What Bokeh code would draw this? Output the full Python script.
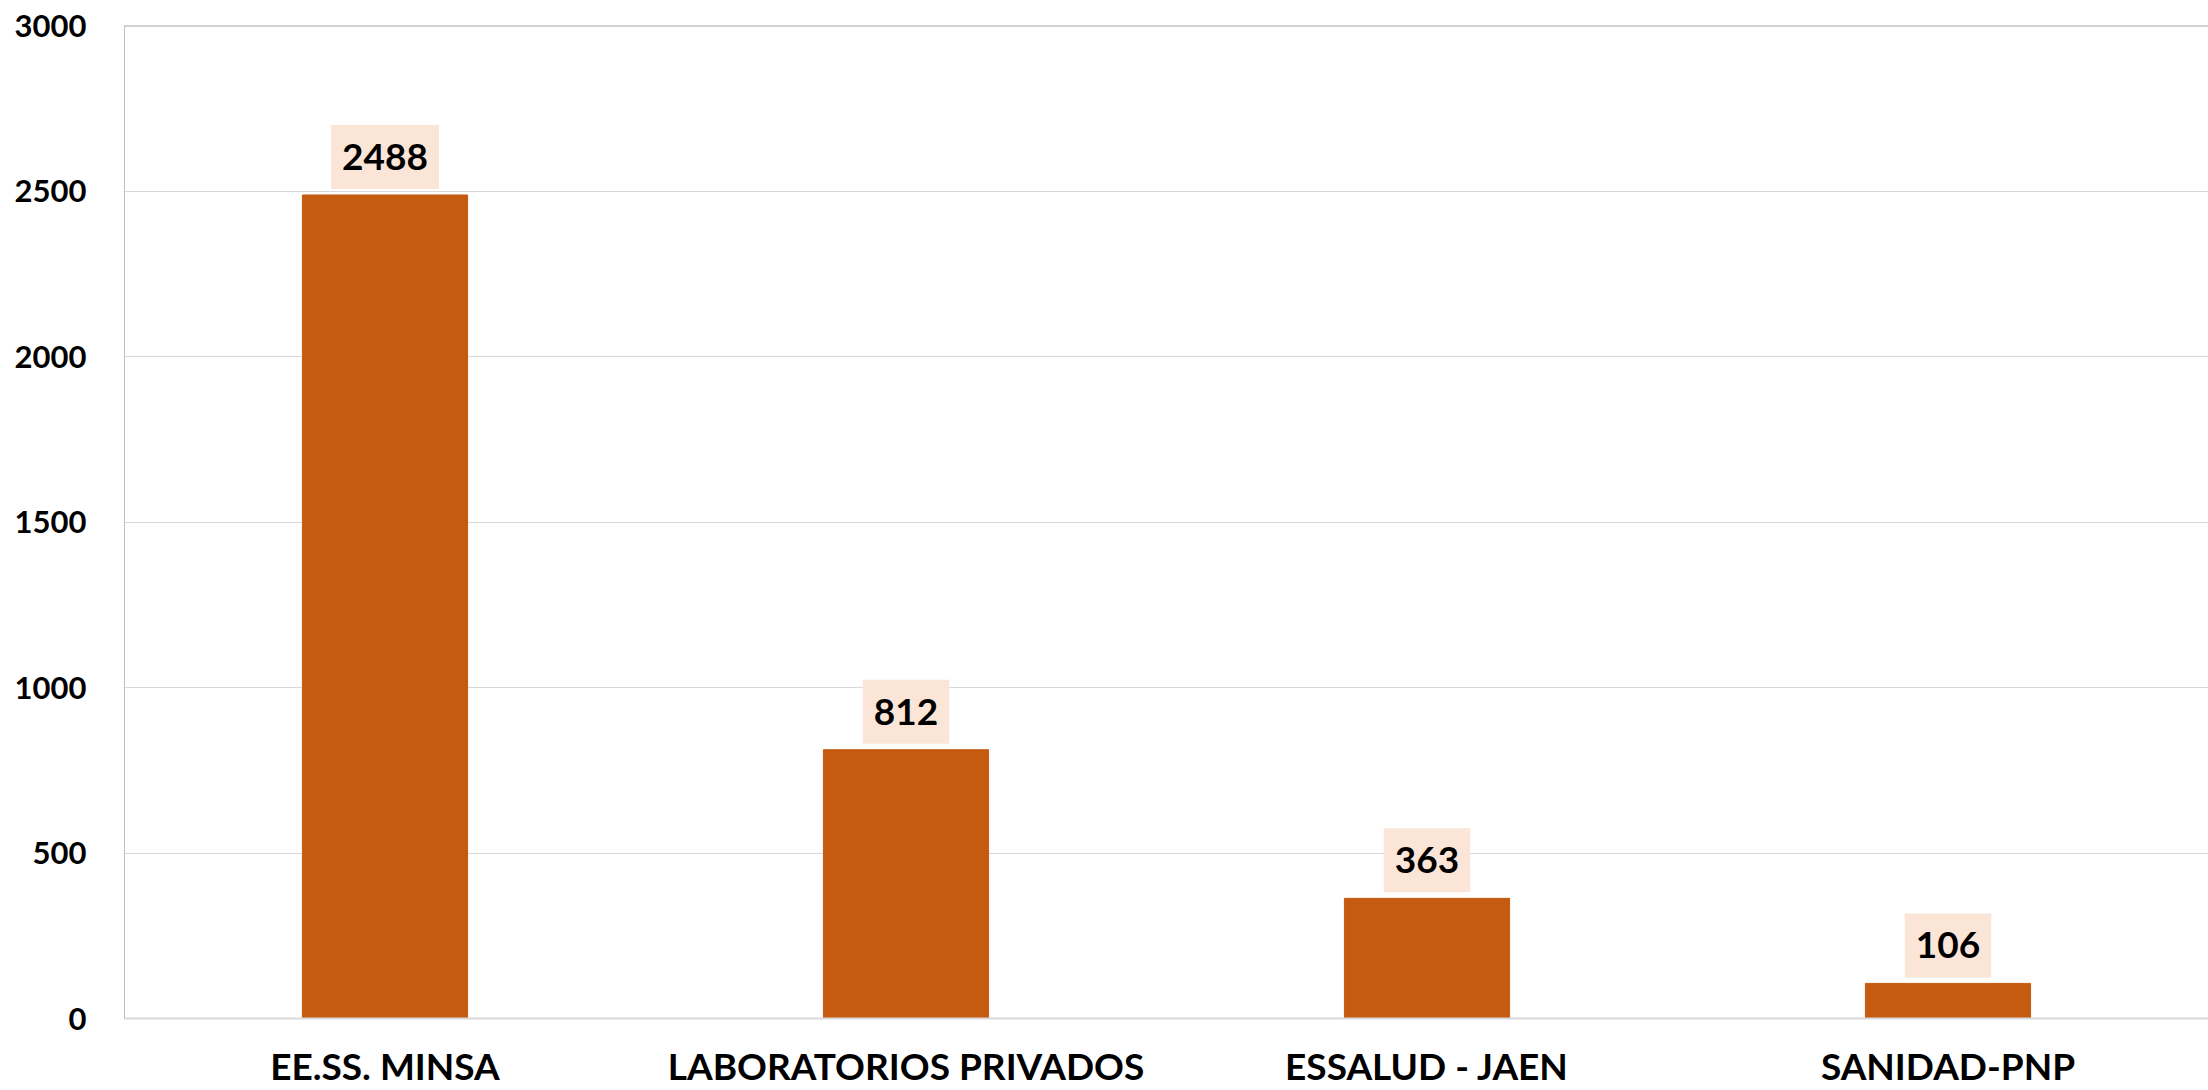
from bokeh.plotting import figure
from bokeh.models import ColumnDataSource, FixedTicker, Range1d, FactorRange, Span
from bokeh.core.properties import value
from bokeh.embed import file_html
from bokeh.resources import INLINE

categories = ["EE.SS. MINSA", "LABORATORIOS PRIVADOS", "ESSALUD - JAEN", "SANIDAD-PNP"]
counts = [2488, 812, 363, 106]
y_ticks = [0, 500, 1000, 1500, 2000, 2500, 3000]

FONT = "Lato"
BAR = "#C55A11"

src = ColumnDataSource(dict(cat=categories, val=counts, lab=[str(v) for v in counts]))

p = figure(
    width=2208, height=1090,
    x_range=FactorRange(*categories, range_padding=0),
    y_range=Range1d(0, 3000),
    output_backend="svg", toolbar_location=None,
    min_border_left=124, min_border_right=0, min_border_top=25, min_border_bottom=0,
    background_fill_color="white", border_fill_color="white",
)
p.outline_line_color = None

p.vbar(x="cat", top="val", width=0.317, source=src, fill_color=BAR, line_color=BAR)

p.text(x="cat", y="val", text="lab", source=src,
       text_font=value(FONT), text_font_style="bold", text_font_size="37px",
       text_color="black", text_align="center", text_baseline="middle",
       y_offset=-38, background_fill_color="#FBE5D6",
       padding=dict(left=11, right=11, top=19, bottom=19))

# top border of plot area
p.add_layout(Span(location=3000, dimension="width", line_color="#A6A6A6", line_width=2))

p.xgrid.grid_line_color = None
p.ygrid.ticker = FixedTicker(ticks=y_ticks)
p.ygrid.grid_line_color = "#D9D9D9"
p.ygrid.grid_line_width = 1

p.yaxis.ticker = FixedTicker(ticks=y_ticks)
p.yaxis.axis_line_color = "#BFBFBF"
p.yaxis.axis_line_width = 1
p.yaxis.major_tick_line_color = None
p.yaxis.minor_tick_line_color = None
p.yaxis.major_label_standoff = 32
p.yaxis.major_label_text_font = FONT
p.yaxis.major_label_text_font_style = "bold"
p.yaxis.major_label_text_font_size = "31px"
p.yaxis.major_label_text_color = "black"

p.xaxis.axis_line_color = "#D9D9D9"
p.xaxis.axis_line_width = 2
p.xaxis.major_tick_line_color = None
p.xaxis.minor_tick_line_color = None
p.xaxis.major_label_standoff = 18
p.xaxis.major_label_text_font = FONT
p.xaxis.major_label_text_font_style = "bold"
p.xaxis.major_label_text_font_size = "37px"
p.xaxis.major_label_text_color = "black"

open("out.html", "w").write(file_html(p, INLINE))
